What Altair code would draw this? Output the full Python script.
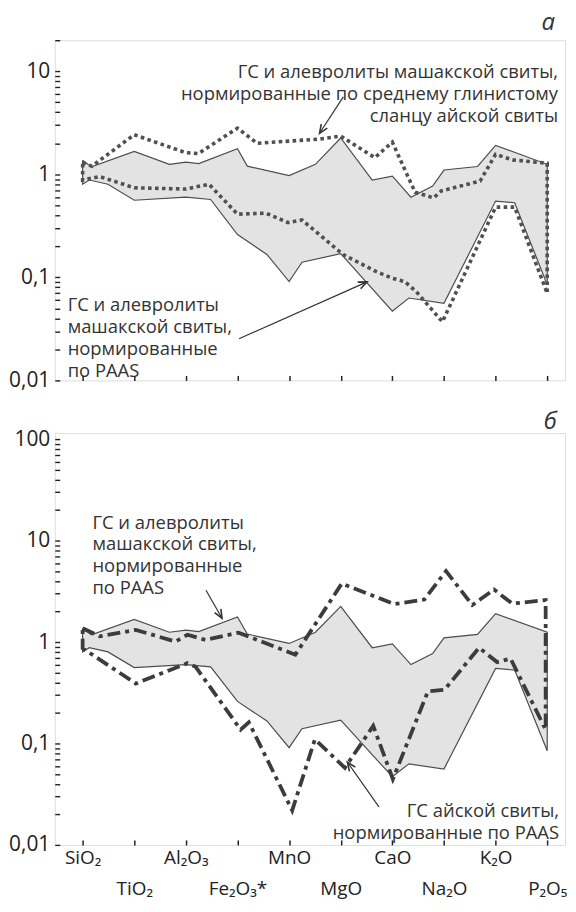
import math
import altair as alt
import pandas as pd

# ---------------- data ----------------
oxides = ["SiO₂", "TiO₂", "Al₂O₃", "Fe₂O₃*", "MnO", "MgO", "CaO", "Na₂O", "K₂O", "P₂O₅"]

# envelope: Mashak Fm. shales & siltstones normalised to PAAS (both panels)
env_upper_x = [0, 0.17, 1.0, 1.68, 2.0, 2.25, 3.0, 3.19, 4.0, 4.51, 5.0, 5.61, 6.0, 6.36, 6.78, 7.0, 7.65, 8.0, 9.0]
env_upper_y = [1.37, 1.18, 1.67, 1.25, 1.31, 1.27, 1.77, 1.20, 0.97, 1.25, 2.25, 0.88, 0.96, 0.60, 0.77, 1.10, 1.19, 1.91, 1.25]
env_lower_x = [0, 0.13, 0.49, 1.0, 2.0, 2.48, 3.0, 3.57, 4.0, 4.25, 5.0, 6.0, 6.32, 7.0, 8.0, 8.37, 9.0]
env_lower_y = [0.80, 0.88, 0.80, 0.56, 0.60, 0.57, 0.26, 0.167, 0.091, 0.14, 0.17, 0.047, 0.063, 0.056, 0.55, 0.53, 0.085]

# panel a, dotted: Mashak Fm. normalised to average Ai Fm. shale
ai_upper_x = [0, 0.18, 1.0, 2.0, 2.24, 3.0, 3.38, 4.6, 5.0, 5.66, 6.0, 6.44, 6.8, 6.95, 7.7, 8.0, 8.33, 9.0]
ai_upper_y = [1.30, 1.20, 2.42, 1.62, 1.59, 2.8, 2.0, 2.2, 2.35, 1.45, 2.05, 0.67, 0.59, 0.69, 0.86, 1.56, 1.38, 1.28]
ai_lower_x = [0, 0.33, 1.0, 2.0, 2.45, 3.0, 3.55, 3.98, 4.25, 5.05, 5.7, 6.0, 6.24, 6.46, 6.97, 8.0, 8.37, 9.0]
ai_lower_y = [0.88, 0.95, 0.74, 0.72, 0.80, 0.41, 0.42, 0.34, 0.36, 0.166, 0.113, 0.098, 0.091, 0.073, 0.037, 0.48, 0.48, 0.07]

# panel b, dash-dot: Ai Fm. shales normalised to PAAS
paas_upper_x = [0, 0.33, 1.03, 1.8, 2.03, 2.38, 3.02, 4.12, 5.02, 6.04, 6.62, 7.04, 7.55, 7.97, 8.32, 8.97]
paas_upper_y = [1.37, 1.14, 1.32, 1.01, 1.18, 1.05, 1.24, 0.75, 3.78, 2.37, 2.63, 5.01, 2.32, 3.30, 2.40, 2.59]
paas_lower_x = [0, 1.03, 2.03, 2.19, 3.06, 3.22, 4.06, 4.5, 5.08, 5.63, 6.01, 6.69, 7.01, 7.68, 8.03, 8.29, 8.97]
paas_lower_y = [0.87, 0.39, 0.62, 0.57, 0.137, 0.162, 0.0219, 0.110, 0.0576, 0.149, 0.0445, 0.327, 0.339, 0.88, 0.635, 0.688, 0.137]

label_a1 = "ГС и алевролиты машакской свиты,\nнормированные по среднему глинистому\nсланцу айской свиты"
label_a2 = "ГС и алевролиты\nмашакской свиты,\nнормированные\nпо PAAS"
label_b1 = "ГС и алевролиты\nмашакской свиты,\nнормированные\nпо PAAS"
label_b2 = "ГС айской свиты,\nнормированные по PAAS"

# annotation anchors (data units; y is the first line)
text_a = [(9.21, 9.8, label_a1, "right"), (-0.29, 0.054, label_a2, "left")]
text_b = [(0.19, 15.1, label_b1, "left"), (9.23, 0.0216, label_b2, "right")]
arrows_a = [(5.05, 5.64, 4.59, 2.5), (3.03, 0.0254, 5.51, 0.0903)]
arrows_b = [(2.39, 3.25, 2.70, 1.72), (5.74, 0.0237, 5.13, 0.0654)]

# ---------------- layout / style ----------------
W = 513
HA = 342
HB = 414
XDOM = [-0.54, 9.345]
YDOM_A = [0.01, 20]
YDOM_B = [0.01, 115]
FONT = "Open Sans"
INK = "#222222"
TXT = "#333333"


def polygon(ux, uy, lx, ly):
    xs = list(ux) + list(reversed(lx)) + [ux[0]]
    ys = list(uy) + list(reversed(ly)) + [uy[0]]
    return pd.DataFrame({"x": xs, "y": ys, "i": list(range(len(xs)))})


def to_px(x, y, ydom, h):
    X = (x - XDOM[0]) / (XDOM[1] - XDOM[0]) * W
    Y = (math.log10(ydom[1]) - math.log10(y)) / (math.log10(ydom[1]) - math.log10(ydom[0])) * h
    return X, Y


def arrows_df(arrs, ydom, h):
    rows = []
    for x1, y1, x2, y2 in arrs:
        X1, Y1 = to_px(x1, y1, ydom, h)
        X2, Y2 = to_px(x2, y2, ydom, h)
        ang = math.degrees(math.atan2(X2 - X1, -(Y2 - Y1))) % 360
        rows.append({"x": x1, "y": y1, "x2": x2, "y2": y2, "ang": ang})
    return pd.DataFrame(rows)


names_js = "[" + ",".join("'" + n + "'" for n in oxides) + "]"
x_label_expr = (
    f"datum.value % 2 == 0 ? [{names_js}[datum.value], ''] : ['', {names_js}[datum.value]]"
)


def panel(ydom, h, line_df, line_style, texts, arrs, show_x_labels, title):
    xscale = alt.Scale(domain=XDOM, nice=False, zero=False)
    yscale = alt.Scale(type="log", domain=ydom, nice=False)
    yvals = []
    for e in range(-2, 3):
        for k in range(1, 10):
            v = k * 10.0 ** e
            if v <= ydom[1] * 1.0001:
                yvals.append(round(v, 6))
    xaxis = alt.Axis(
        values=list(range(10)), title=None, grid=False, domain=False,
        tickSize=5, offset=-5, tickColor=INK, tickWidth=1.5, zindex=1,
        labels=show_x_labels, labelExpr=x_label_expr, labelFont=FONT,
        labelFontSize=19, labelColor=INK, labelPadding=4, labelLineHeight=31,
        labelOverlap=False, labelFlush=False,
    )
    yaxis = alt.Axis(
        values=yvals, title=None, grid=False, domain=False,
        tickSize=5, offset=-5, tickColor=INK, tickWidth=1.4, zindex=1,
        format="~g",
        labelExpr="indexof([0.01,0.1,1,10,100], datum.value) >= 0 ? replace(datum.label, '.', ',') : ''",
        labelFont=FONT, labelFontSize=21, labelColor=INK, labelPadding=5,
        labelOverlap=False, labelFlush=False,
    )
    X = alt.X("x:Q", scale=xscale, axis=xaxis)
    Y = alt.Y("y:Q", scale=yscale, axis=yaxis)

    env = alt.Chart(polygon(env_upper_x, env_upper_y, env_lower_x, env_lower_y)).mark_line(
        fill="#e3e3e3", stroke="#4d4d4d", strokeWidth=1.2, clip=True
    ).encode(x=X, y=Y, order=alt.Order("i:Q"))

    lines = alt.Chart(line_df).mark_line(clip=True, **line_style).encode(
        x=X, y=Y, order=alt.Order("i:Q")
    )

    layers = [env, lines]
    for tx, ty, tt, al in texts:
        layers.append(
            alt.Chart(pd.DataFrame({"x": [tx], "y": [ty], "t": [tt]})).mark_text(
                font=FONT, fontSize=18.5, lineBreak="\n", lineHeight=22,
                align=al, baseline="middle", color=TXT,
            ).encode(x=X, y=Y, text="t:N")
        )
    adf = arrows_df(arrs, ydom, h)
    layers.append(
        alt.Chart(adf).mark_rule(color="#333333", strokeWidth=1.2).encode(
            x=X, y=Y, x2="x2:Q", y2="y2:Q"
        )
    )
    layers.append(
        alt.Chart(adf).mark_point(
            shape="M-0.42,1L0,0L0.42,1", filled=False, size=300,
            stroke="#333333", strokeWidth=1.6, opacity=1,
        ).encode(
            x=alt.X("x2:Q", scale=xscale, axis=xaxis),
            y=alt.Y("y2:Q", scale=yscale, axis=yaxis),
            angle=alt.Angle("ang:Q", scale=None),
        )
    )
    return alt.layer(*layers).properties(
        width=W, height=h,
        title=alt.Title(
            title, anchor="end", font=FONT, fontSize=24, fontStyle="italic",
            fontWeight="normal", color="#333333", offset=-6, dx=-10,
        ),
    )


dotted = {"stroke": "#505050", "strokeWidth": 3.6, "strokeDash": [3.6, 3.4], "strokeCap": "butt"}
dashdot = {"stroke": "#3c3c3c", "strokeWidth": 3.8, "strokeDash": [13, 5, 4, 5], "strokeCap": "butt"}

pa = panel(YDOM_A, HA, polygon(ai_upper_x, ai_upper_y, ai_lower_x, ai_lower_y), dotted,
           text_a, arrows_a, False, "а")
pb = panel(YDOM_B, HB, polygon(paas_upper_x, paas_upper_y, paas_lower_x, paas_lower_y), dashdot,
           text_b, arrows_b, True, "б")

chart = alt.vconcat(pa, pb, spacing=18).properties(
    padding={"left": 0, "top": 0, "right": 0, "bottom": 0}
).configure_view(stroke=INK, strokeWidth=2).configure(background="white")

chart.save("out.html", embed_options={"renderer": "svg", "actions": False})
